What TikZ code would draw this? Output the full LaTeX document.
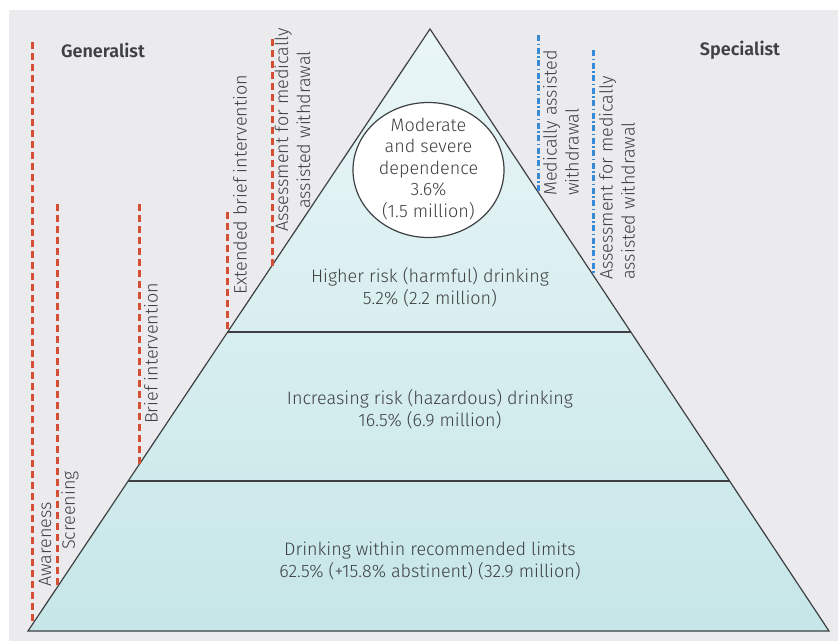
\documentclass[tikz,border=0pt]{standalone}
\usepackage{fontspec}
\setmainfont{Fira Sans Light}[BoldFont={Fira Sans SemiBold}]
\usetikzlibrary{shapes,arrows,positioning}

\definecolor{panel}{RGB}{235,235,237}
\definecolor{ink}{RGB}{62,64,67}
\definecolor{gencol}{RGB}{212,80,52}
\definecolor{specol}{RGB}{56,138,212}
\definecolor{laytop}{RGB}{234,246,247}
\definecolor{laybot}{RGB}{198,230,232}

\begin{document}
\begin{tikzpicture}[
    x=1pt, y=-1pt,
    font=\fontsize{18}{22}\selectfont,
    every node/.style={text=ink, inner sep=1pt},
    layer/.style={align=center},
    tag/.style={rotate=90, anchor=west, align=left},
    generalist/.style={gencol, line width=3pt, dash pattern=on 7pt off 4pt},
    specialist/.style={specol, line width=3pt, dash pattern=on 6pt off 2.5pt on 1.5pt off 2.5pt},
    heading/.style={font=\fontsize{18}{22}\selectfont\bfseries}
]

% Background
\fill[white] (0,0) rectangle (838,641);
\fill[panel] (9,10) rectangle (838,641);
\useasboundingbox (0,0) rectangle (838,641);

% Pyramid
\coordinate (apex) at (430,29);
\coordinate (bl) at (28,631);
\coordinate (br) at (829,631);
\shade[top color=laytop, bottom color=laybot] (bl) -- (apex) -- (br) -- cycle;
\draw[ink, line width=1.2pt, line join=miter] (bl) -- (apex) -- (br) -- cycle;
\draw[ink, line width=1.2pt] (227.7,332) -- (630.8,332);
\draw[ink, line width=1.2pt] (128.2,481) -- (729.6,481);

% Layers
\fill[white] (428.5,170) ellipse [x radius=75.5, y radius=67.5];
\draw[ink, line width=1.2pt] (428.5,170) ellipse [x radius=75.5, y radius=67.5];
\node[layer, font=\fontsize{18}{21.5}\selectfont] (dependence) at (428.5,169)
    {Moderate\\and severe\\dependence\\3.6\%\\(1.5 million)};
\node[layer] (harmful) at (430,287) {Higher risk (harmful) drinking\\5.2\% (2.2 million)};
\node[layer] (hazardous) at (430,409) {Increasing risk (hazardous) drinking\\16.5\% (6.9 million)};
\node[layer] (limits) at (430,561) {Drinking within recommended limits\\62.5\% (+15.8\% abstinent) (32.9 million)};

% Headings
\node[heading] (generalist) at (103,50) {Generalist};
\node[heading] (specialist) at (740,50) {Specialist};

% Generalist interventions
\draw[generalist] (32,42) -- (32,625);
\draw[generalist] (57,204) -- (57,588);
\draw[generalist] (139,204) -- (139,465);
\draw[generalist] (227,212) -- (227,333);
\draw[generalist] (272,39) -- (272,266);
\node[tag] (awareness) at (45,588) {Awareness};
\node[tag] (screening) at (70,551) {Screening};
\node[tag] (brief) at (151,425) {Brief intervention};
\node[tag] (extended) at (240,296) {Extended brief intervention};
\node[tag, align=center] (assessgen) at (292.5,233) {Assessment for medically\\assisted withdrawal};

% Specialist interventions
\draw[specialist] (538,35) -- (538,192);
\draw[specialist] (593,50) -- (593,275);
\node[tag] (withdrawal) at (561,197) {Medically assisted\\withdrawal};
\node[tag] (assessspec) at (617,281) {Assessment for medically\\assisted withdrawal};

\end{tikzpicture}
\end{document}
